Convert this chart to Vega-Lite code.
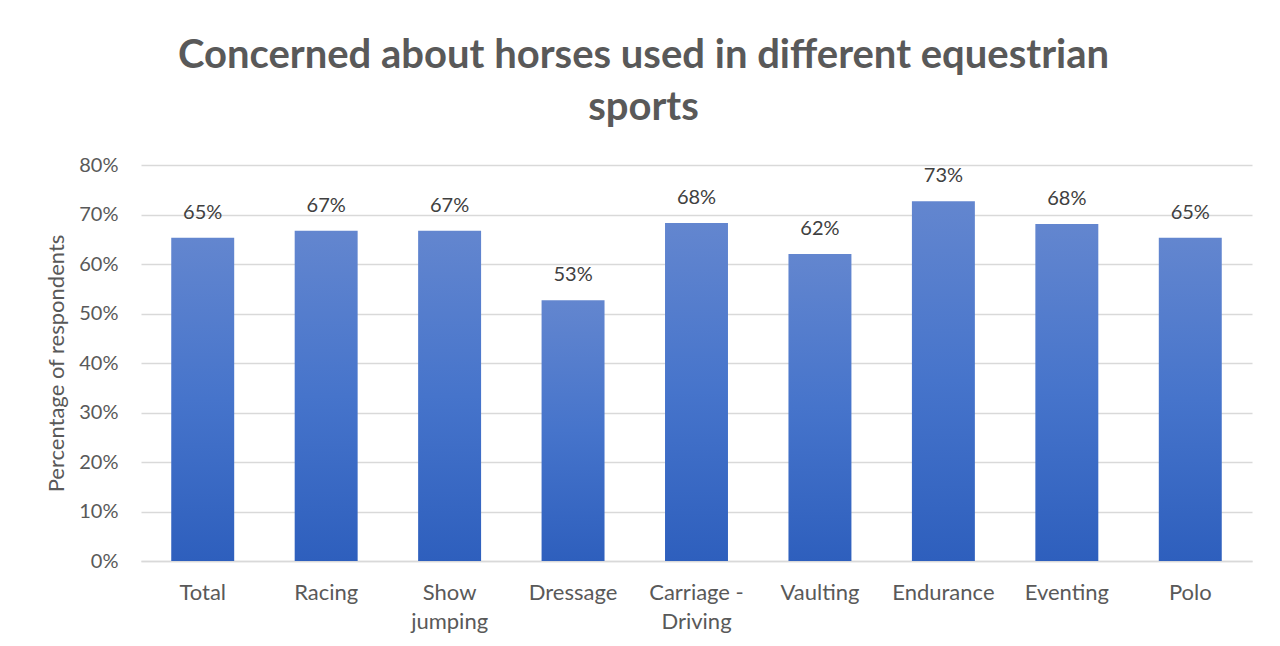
{
  "$schema": "https://vega.github.io/schema/vega-lite/v6.json",
  "width": 1111,
  "height": 396,
  "autosize": {"type": "none"},
  "padding": {"left": 141, "top": 165, "right": 28, "bottom": 85},
  "background": "white",
  "title": {
    "text": ["Concerned about horses used in different equestrian", "sports"],
    "font": "Lato",
    "fontSize": 40,
    "fontWeight": "bold",
    "color": "#595959",
    "anchor": "middle",
    "dx": -53,
    "offset": 27,
    "lineHeight": 52
  },
  "data": {
    "values": [
      {"sport": "Total", "pct": 0.653},
      {"sport": "Racing", "pct": 0.667},
      {"sport": "Show jumping", "pct": 0.667},
      {"sport": "Dressage", "pct": 0.527},
      {"sport": "Carriage - Driving", "pct": 0.683},
      {"sport": "Vaulting", "pct": 0.620},
      {"sport": "Endurance", "pct": 0.727},
      {"sport": "Eventing", "pct": 0.681},
      {"sport": "Polo", "pct": 0.653}
    ]
  },
  "encoding": {
    "x": {
      "field": "sport",
      "type": "nominal",
      "sort": null,
      "scale": {"paddingInner": 0.49, "paddingOuter": 0.245},
      "axis": {
        "title": null,
        "labelAngle": 0,
        "labelFont": "Lato",
        "labelFontSize": 22,
        "labelColor": "#595959",
        "labelPadding": 21,
        "labelLineHeight": 29,
        "labelBaseline": "top",
        "ticks": false,
        "domainColor": "#d9d9d9",
        "domainWidth": 1.5,
        "labelExpr": "datum.label == 'Show jumping' ? ['Show', 'jumping'] : datum.label == 'Carriage - Driving' ? ['Carriage -', 'Driving'] : datum.label"
      }
    },
    "y": {
      "field": "pct",
      "type": "quantitative",
      "scale": {"domain": [0, 0.8], "nice": false},
      "axis": {
        "title": "Percentage of respondents",
        "titleFont": "Lato",
        "titleFontSize": 22,
        "titleFontWeight": "normal",
        "titleColor": "#595959",
        "titlePadding": 10,
        "format": ".0%",
        "values": [0, 0.1, 0.2, 0.3, 0.4, 0.5, 0.6, 0.7, 0.8],
        "labelFont": "Lato",
        "labelFontSize": 20,
        "labelColor": "#595959",
        "labelPadding": 23,
        "ticks": false,
        "domain": false,
        "gridColor": "#d9d9d9",
        "gridWidth": 1.5
      }
    }
  },
  "layer": [
    {
      "mark": {
        "type": "bar",
        "color": {
          "gradient": "linear",
          "x1": 0, "y1": 0, "x2": 0, "y2": 1,
          "stops": [
            {"offset": 0, "color": "#6386cf"},
            {"offset": 0.5, "color": "#4674cb"},
            {"offset": 1, "color": "#2e5fbd"}
          ]
        }
      }
    },
    {
      "mark": {
        "type": "text",
        "baseline": "bottom",
        "dy": -15,
        "font": "Lato",
        "fontSize": 20,
        "color": "#404040"
      },
      "encoding": {
        "text": {"field": "pct", "type": "quantitative", "format": ".0%"}
      }
    }
  ],
  "config": {
    "view": {"stroke": null}
  }
}
